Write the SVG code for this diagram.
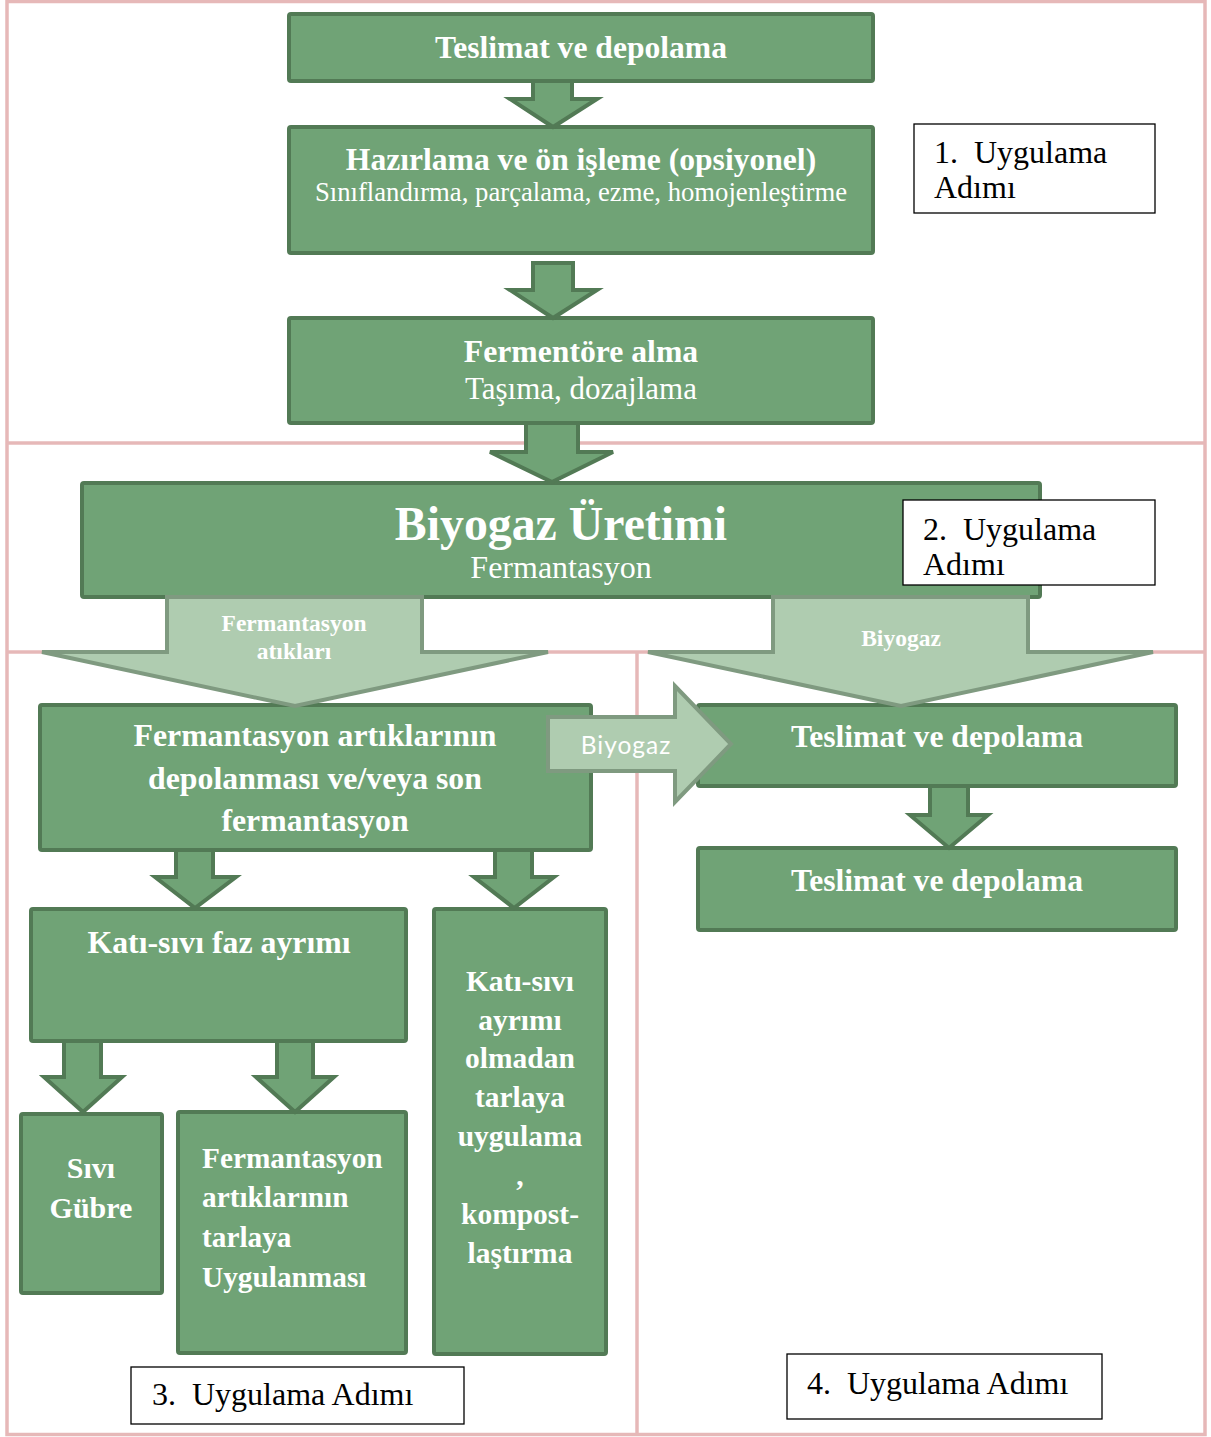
<svg xmlns="http://www.w3.org/2000/svg" width="1211" height="1437" viewBox="0 0 1211 1437">
<style>
.frame{fill:none;stroke:#e6b8b8;stroke-width:3.5}
.box{fill:#70a376;stroke:#527a55;stroke-width:4}
.arr{fill:#70a376;stroke:#527a55;stroke-width:4;stroke-linejoin:miter}
.larr{fill:#afccb0;stroke:#7f9a80;stroke-width:4}
.lbl{fill:#fff;stroke:#000;stroke-width:1.3}
.tb{font-family:"Liberation Serif","Times New Roman",serif;font-weight:bold;fill:#fff;text-anchor:middle}
.tr{font-family:"Liberation Serif","Times New Roman",serif;fill:#fff;text-anchor:middle}
.tk{font-family:"Liberation Serif","Times New Roman",serif;fill:#000;font-size:32px}
</style>
<rect width="1211" height="1437" fill="#fff"/>
<g id="frame">
<rect class="frame" x="7" y="1.5" width="1198" height="1433"/>
<line class="frame" x1="7" y1="443" x2="1205" y2="443"/>
<line class="frame" x1="7" y1="652" x2="1205" y2="652"/>
<line class="frame" x1="637" y1="652" x2="637" y2="1435"/>
</g>
<g id="n1"><rect class="box" x="289" y="14" width="584" height="67" rx="2"/><text class="tb" x="581" y="58" font-size="31.6">Teslimat ve depolama</text></g>
<g id="n2"><rect class="box" x="289" y="127" width="584" height="126" rx="2"/><text class="tb" x="581" y="170" font-size="31.6">Hazırlama ve ön işleme (opsiyonel)</text><text class="tr" x="581" y="201" font-size="26.7">Sınıflandırma, parçalama, ezme, homojenleştirme</text></g>
<g id="n3"><rect class="box" x="289" y="318" width="584" height="105" rx="2"/><text class="tb" x="581" y="362" font-size="31.7">Fermentöre alma</text><text class="tr" x="581" y="399" font-size="31">Taşıma, dozajlama</text></g>
<g id="n4"><rect class="box" x="82" y="483" width="958" height="114" rx="2"/><text class="tb" x="561" y="540" font-size="47.8">Biyogaz Üretimi</text><text class="tr" x="561" y="578" font-size="32">Fermantasyon</text></g>
<g id="n5"><rect class="box" x="40" y="705" width="551" height="145" rx="2"/><text class="tb" x="315" y="746" font-size="31.8">Fermantasyon artıklarının</text><text class="tb" x="315" y="789" font-size="31.8">depolanması ve/veya son</text><text class="tb" x="315" y="831" font-size="31.8">fermantasyon</text></g>
<g id="n6"><rect class="box" x="698" y="705" width="478" height="81" rx="2"/><text class="tb" x="937" y="747" font-size="31.6">Teslimat ve depolama</text></g>
<g id="n7"><rect class="box" x="698" y="848" width="478" height="82" rx="2"/><text class="tb" x="937" y="891" font-size="31.6">Teslimat ve depolama</text></g>
<g id="n8"><rect class="box" x="31" y="909" width="375" height="132" rx="2"/><text class="tb" x="219" y="953" font-size="31.8">Katı-sıvı faz ayrımı</text></g>
<g id="n9"><rect class="box" x="434" y="909" width="172" height="445" rx="2"/>
<text class="tb" x="520" font-size="29.5"><tspan x="520" y="991">Katı-sıvı</tspan><tspan x="520" y="1030">ayrımı</tspan><tspan x="520" y="1068">olmadan</tspan><tspan x="520" y="1107">tarlaya</tspan><tspan x="520" y="1146">uygulama</tspan><tspan x="520" y="1185">,</tspan><tspan x="520" y="1224">kompost-</tspan><tspan x="520" y="1263">laştırma</tspan></text></g>
<g id="n10"><rect class="box" x="21" y="1114" width="141" height="179" rx="2"/><text class="tb" x="91" font-size="30"><tspan x="91" y="1178">Sıvı</tspan><tspan x="91" y="1218">Gübre</tspan></text></g>
<g id="n11"><rect class="box" x="178" y="1112" width="228" height="241" rx="2"/><text class="tb" x="202" font-size="29.3" style="text-anchor:start"><tspan x="202" y="1168">Fermantasyon</tspan><tspan x="202" y="1207">artıklarının</tspan><tspan x="202" y="1247">tarlaya</tspan><tspan x="202" y="1287">Uygulanması</tspan></text></g>
<g id="connectors">
<polygon class="arr" points="533,81 572,81 572,99 597,99 553,127 510,99 533,99"/>
<polygon class="arr" points="533,263 573,263 573,290 597,290 553,318 510,290 533,290"/>
<polygon class="arr" points="526,423 578,423 578,452 613,452 552,482 490,452 526,452"/>
<polygon class="larr" points="167,597 422,597 422,652 548,652 295,706 42,652 167,652"/>
<polygon class="larr" points="773,597 1028,597 1028,652 1153,652 901,706 648,652 773,652"/>
<polygon class="larr" points="548,717 675,717 675,686 731,744 675,802 675,771 548,771"/>
<polygon class="arr" points="930,786 968,786 968,815 988,815 949,848 910,815 930,815"/>
<polygon class="arr" points="176,850 213,850 213,877 236,877 195,908 155,877 176,877"/>
<polygon class="arr" points="495,850 532,850 532,877 554,877 514,908 474,877 495,877"/>
<polygon class="arr" points="64,1041 101,1041 101,1077 122,1077 83,1112 44,1077 64,1077"/>
<polygon class="arr" points="277,1041 313,1041 313,1077 334,1077 295,1112 256,1077 277,1077"/>
<text class="tb" x="294" y="631" font-size="23.5">Fermantasyon</text>
<text class="tb" x="294" y="659" font-size="23.5">atıkları</text>
<text class="tb" x="901" y="646" font-size="23.5">Biyogaz</text>
<text x="626" y="754" font-family="Lato, 'Open Sans', sans-serif" font-size="24.5" fill="#fff" text-anchor="middle" letter-spacing="1">Biyogaz</text>
</g>
<g id="label1"><rect class="lbl" x="914" y="124" width="241" height="89"/><text class="tk" x="934" y="163" xml:space="preserve">1.  Uygulama</text><text class="tk" x="934" y="198">Adımı</text></g>
<g id="label2"><rect class="lbl" x="903" y="500" width="252" height="85"/><text class="tk" x="923" y="540" xml:space="preserve">2.  Uygulama</text><text class="tk" x="923" y="575">Adımı</text></g>
<g id="label3"><rect class="lbl" x="131" y="1367" width="333" height="57"/><text class="tk" x="152" y="1405" xml:space="preserve">3.  Uygulama Adımı</text></g>
<g id="label4"><rect class="lbl" x="787" y="1354" width="315" height="65"/><text class="tk" x="807" y="1394" xml:space="preserve">4.  Uygulama Adımı</text></g>
</svg>
